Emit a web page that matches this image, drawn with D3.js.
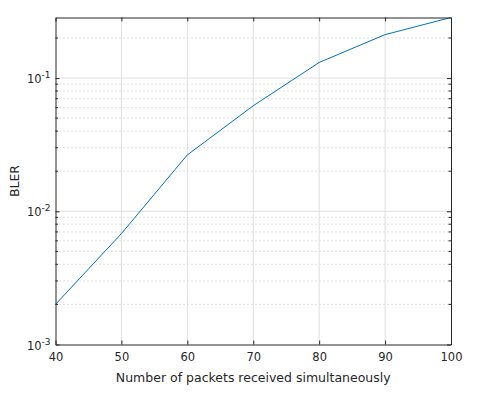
<!DOCTYPE html>
<html><head><meta charset="utf-8">
<script src="https://cdn.jsdelivr.net/npm/d3@7"></script>
<style>
body{margin:0;background:#fff;}
svg{font-family:"DejaVu Sans",sans-serif;}
</style></head>
<body><svg id="c" width="492" height="395"></svg>
<script>
const packets = [40, 50, 60, 70, 80, 90, 100];
const bler = [0.002, 0.0068, 0.0265, 0.062, 0.131, 0.212, 0.285];
const xTicks = [40, 50, 60, 70, 80, 90, 100];
const yDecades = [-3, -2, -1];
const xLabel = "Number of packets received simultaneously";
const yLabel = "BLER";

const svg = d3.select("#c");
const L = 55.5, R = 451, T = 17.5, B = 344.5;
const x = d3.scaleLinear().domain([40, 100]).range([L, R]);
const y = d3.scaleLog().domain([0.001, bler[bler.length-1]]).range([B, T]);
const axisCol = "#262626";

// minor y values
const minors = [];
for (let e = -3; e <= -1; e++) for (let m = 2; m <= 9; m++) {
  const v = m * Math.pow(10, e);
  if (v <= y.domain()[1]) minors.push(v);
}
const g = svg.append("g");
// minor grid dotted
g.selectAll(".mg").data(minors).enter().append("line")
  .attr("x1", L).attr("x2", R).attr("y1", d => y(d)).attr("y2", d => y(d))
  .attr("stroke", "#b8b8b8").attr("stroke-width", 0.8).attr("stroke-dasharray", "1,3");
// major grids
g.selectAll(".xg").data(xTicks.slice(1, -1)).enter().append("line")
  .attr("x1", d => x(d)).attr("x2", d => x(d)).attr("y1", T).attr("y2", B)
  .attr("stroke", "#dedede").attr("stroke-width", 1);
g.selectAll(".yg").data(yDecades.map(e => Math.pow(10, e)).slice(1)).enter().append("line")
  .attr("x1", L).attr("x2", R).attr("y1", d => y(d)).attr("y2", d => y(d))
  .attr("stroke", "#dedede").attr("stroke-width", 1);

// data line
const line = d3.line().x((d, i) => x(packets[i])).y(d => y(d));
svg.append("path").datum(bler).attr("d", line).attr("fill", "none")
  .attr("stroke", "#0072BD").attr("stroke-width", 1);

// axes via d3 axis (ticks inward)
const xAxisB = d3.axisBottom(x).tickValues(xTicks).tickSizeInner(-4).tickSizeOuter(0).tickPadding(8);
const gx = svg.append("g").attr("transform", `translate(0,${B})`).call(xAxisB);
gx.select(".domain").attr("stroke", axisCol);
gx.selectAll(".tick line").attr("stroke", axisCol);
gx.selectAll(".tick text").attr("fill", axisCol).attr("font-size", 11.5).attr("font-family", "DejaVu Sans");
const gxt = svg.append("g").attr("transform", `translate(0,${T})`).call(d3.axisTop(x).tickValues(xTicks).tickSizeInner(-4).tickSizeOuter(0).tickFormat(""));
gxt.select(".domain").attr("stroke", axisCol);
gxt.selectAll(".tick line").attr("stroke", axisCol);

const yMajors = yDecades.map(e => Math.pow(10, e));
const gy = svg.append("g").attr("transform", `translate(${L},0)`).call(d3.axisLeft(y).tickValues(yMajors).tickSizeInner(-4).tickSizeOuter(0).tickFormat(""));
gy.select(".domain").attr("stroke", axisCol);
gy.selectAll(".tick line").attr("stroke", axisCol);
const gyr = svg.append("g").attr("transform", `translate(${R},0)`).call(d3.axisRight(y).tickValues(yMajors).tickSizeInner(-4).tickSizeOuter(0).tickFormat(""));
gyr.select(".domain").attr("stroke", axisCol);
gyr.selectAll(".tick line").attr("stroke", axisCol);
// minor ticks
[L, R].forEach((px, k) => {
  svg.append("g").selectAll("line").data(minors).enter().append("line")
    .attr("x1", px).attr("x2", px + (k === 0 ? 2.5 : -2.5))
    .attr("y1", d => y(d)).attr("y2", d => y(d)).attr("stroke", axisCol).attr("stroke-width", 1);
});

// y tick labels with superscripts
yDecades.forEach(e => {
  const t = svg.append("text").attr("x", L - 5).attr("y", y(Math.pow(10, e)) + 5)
    .attr("text-anchor", "end").attr("fill", axisCol).attr("font-size", 11.5);
  t.append("tspan").text("10");
  t.append("tspan").attr("dy", -5).attr("font-size", 9).text(String(e));
});

svg.append("text").attr("x", (L + R) / 2).attr("y", 382).attr("text-anchor", "middle")
  .attr("fill", axisCol).attr("font-size", 12.5).text(xLabel);
svg.append("text").attr("transform", `translate(19,${(T + B) / 2}) rotate(-90)`).attr("text-anchor", "middle")
  .attr("fill", axisCol).attr("font-size", 12.5).text(yLabel);
</script></body></html>
